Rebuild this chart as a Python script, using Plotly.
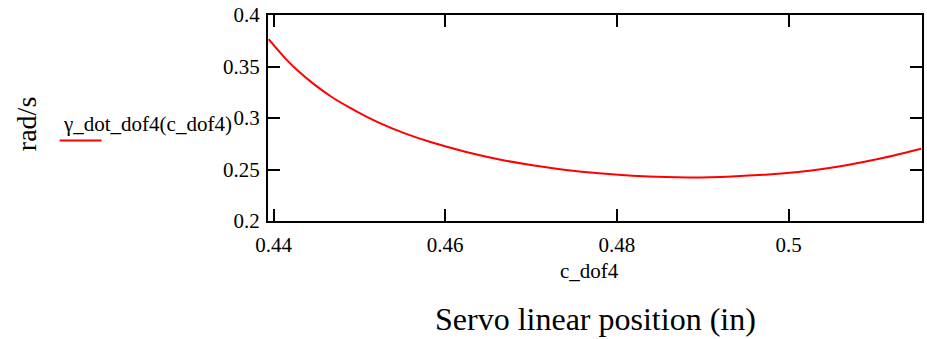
import plotly.graph_objects as go

# Data
c_dof4 = [0.43942, 0.44136, 0.44290, 0.44484, 0.44678, 0.44871, 0.45064, 0.45258,
          0.45529, 0.45857, 0.46245, 0.46632, 0.47018, 0.47406, 0.47792, 0.48179,
          0.48567, 0.48875, 0.49340, 0.49727, 0.50114, 0.50268, 0.50656, 0.51043,
          0.51545]
gamma_dot_dof4 = [0.3765, 0.3579, 0.3453, 0.3319, 0.3204, 0.3108, 0.3021, 0.2943,
                  0.2851, 0.2759, 0.2670, 0.2597, 0.2541, 0.2496, 0.2463, 0.2440,
                  0.2426, 0.2423, 0.2433, 0.2450, 0.2476, 0.2491, 0.2539, 0.2601,
                  0.2702]
x_ticks = [0.44, 0.46, 0.48, 0.5]
x_tick_labels = ["0.44", "0.46", "0.48", "0.5"]
y_ticks = [0.2, 0.25, 0.3, 0.35, 0.4]
y_tick_labels = ["0.2", "0.25", "0.3", "0.35", "0.4"]

FONT = "Liberation Serif"

fig = go.Figure()
fig.add_trace(go.Scatter(x=c_dof4, y=gamma_dot_dof4, mode="lines",
                         line=dict(color="#ff0000", width=2, shape="spline", smoothing=0.6),
                         showlegend=False, hoverinfo="skip"))

axis_common = dict(showgrid=False, zeroline=False, showline=True, linecolor="black",
                   linewidth=2, mirror="ticks", ticks="inside", ticklen=12,
                   tickwidth=2, tickcolor="black",
                   tickfont=dict(family=FONT, size=21, color="black"))

fig.update_layout(
    width=927, height=339,
    margin=dict(l=268, r=3, t=14, b=118),
    paper_bgcolor="white", plot_bgcolor="white",
    font=dict(family=FONT, color="black"),
    xaxis=dict(range=[0.43935, 0.51555], tickvals=x_ticks, ticktext=x_tick_labels,
               ticklabelstandoff=4, **axis_common),
    yaxis=dict(range=[0.2, 0.4], tickvals=y_ticks, ticktext=y_tick_labels,
               ticklabelstandoff=2, **axis_common),
    annotations=[
        dict(text="c_dof4", xref="paper", yref="paper", x=0.491, y=-0.2415,
             showarrow=False, font=dict(family=FONT, size=21), xanchor="center", yanchor="middle"),
        dict(text="Servo linear position (in)", xref="paper", yref="paper", x=0.5, y=-0.478,
             showarrow=False, font=dict(family=FONT, size=32), xanchor="center", yanchor="middle"),
        dict(text="rad/s", xref="paper", yref="paper", x=-0.369, y=0.4686, textangle=-90,
             showarrow=False, font=dict(family=FONT, size=28), xanchor="center", yanchor="middle"),
        dict(text="γ_dot_dof4(c_dof4)", xref="paper", yref="paper", x=-0.316, y=0.4686,
             showarrow=False, font=dict(family=FONT, size=21), xanchor="left", yanchor="middle"),
    ],
    shapes=[
        dict(type="line", xref="paper", yref="paper", x0=-0.3186, x1=-0.2546, y0=0.391, y1=0.391,
             line=dict(color="#ff0000", width=2)),
    ],
)

fig.write_html("out.html")
